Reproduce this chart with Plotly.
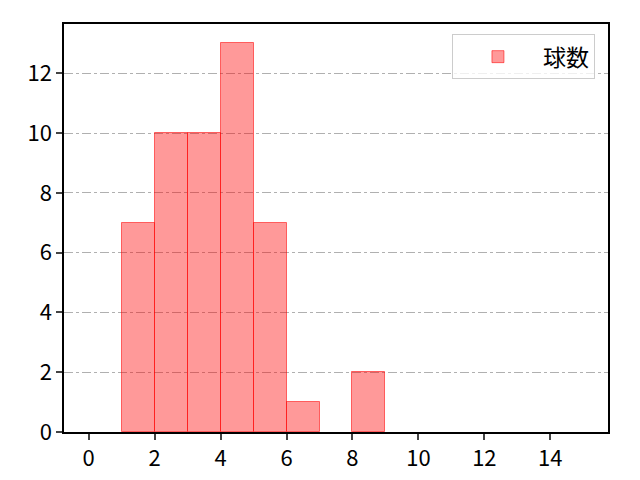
import plotly.graph_objects as go

# histogram bins (left edges) and counts
bin_left = [1, 2, 3, 4, 5, 6, 8]
counts = [7, 10, 10, 13, 7, 1, 2]
bin_width = 1
x_ticks = [0, 2, 4, 6, 8, 10, 12, 14]
y_ticks = [0, 2, 4, 6, 8, 10, 12]

fig = go.Figure()
fig.add_trace(
    go.Bar(
        x=bin_left,
        y=counts,
        width=bin_width,
        offset=0,
        name="球数",
        marker=dict(color="rgba(255,0,0,0.4)", line=dict(color="rgba(255,0,0,0.55)", width=1)),
    )
)

# page body has an 8px margin, so the figure is a bit smaller than the window
fig.update_layout(
    width=624,
    height=464,
    margin=dict(l=56, r=24, t=16, b=40, autoexpand=False),
    plot_bgcolor="white",
    paper_bgcolor="white",
    font=dict(family="Noto Sans CJK JP", size=22, color="black"),
    showlegend=True,
    legend=dict(
        x=0.976, y=0.975, xanchor="right", yanchor="top",
        bordercolor="#cccccc", borderwidth=1, bgcolor="rgba(255,255,255,0.8)",
        font=dict(size=23), itemwidth=80,
    ),
    bargap=0,
)

fig.update_xaxes(
    range=[-0.75, 15.75],
    tickvals=x_ticks,
    ticks="outside", ticklen=6, tickwidth=1.5,
    showline=True, linecolor="black", linewidth=1.5, mirror=True,
    showgrid=False, zeroline=False, automargin=False,
)
fig.update_yaxes(
    range=[0, 13.65],
    tickvals=y_ticks,
    ticks="outside", ticklen=6, tickwidth=1.5,
    showline=True, linecolor="black", linewidth=1.5, mirror=True,
    showgrid=True, gridcolor="#b0b0b0", gridwidth=0.8, griddash="dashdot",
    zeroline=False, automargin=False,
)

fig.write_html("out.html")
